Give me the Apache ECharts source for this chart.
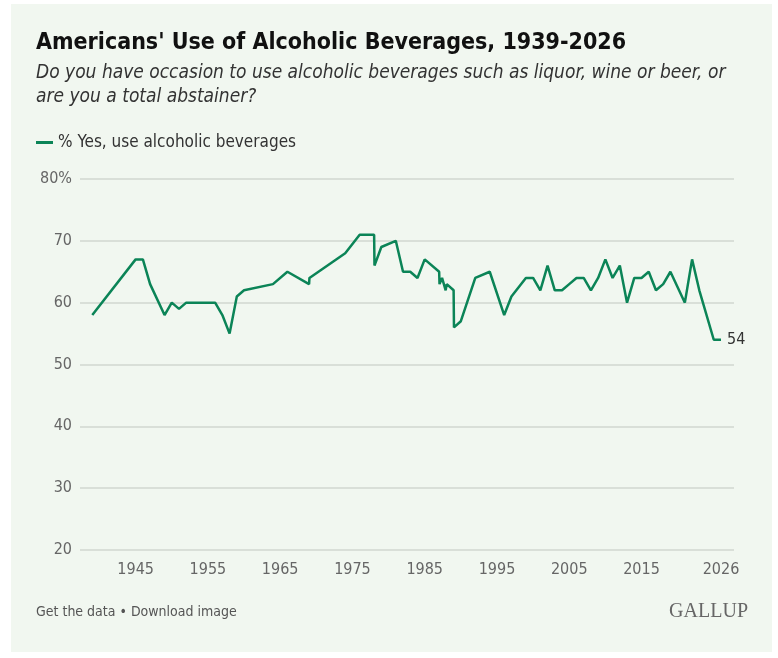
<!DOCTYPE html>
<html>
<head>
<meta charset="utf-8">
<script src="https://cdn.jsdelivr.net/npm/echarts@6/dist/echarts.min.js"></script>
<style>
  html, body { margin: 0; padding: 0; background: #ffffff; }
  #card { position: absolute; left: 11px; top: 4px; width: 761px; height: 648px; background: #f1f7f0; }
  #main { position: absolute; left: 0; top: 0; width: 778px; height: 658px; }
</style>
</head>
<body>
<div id="card"></div>
<div id="main"></div>
<script>
// survey dates (fractional year where several polls share a year)
const years = [1939, 1945, 1946, 1947, 1949, 1950, 1951, 1952, 1956, 1957, 1958, 1959, 1960, 1964, 1966,
  1969, 1969.05, 1974, 1976, 1978, 1978.05, 1979, 1981, 1982, 1983, 1984, 1985, 1987, 1987.05, 1987.4,
  1987.9, 1988.05, 1989, 1989.05, 1990, 1992, 1994, 1996, 1997, 1999, 2000, 2001, 2002, 2003, 2004,
  2005, 2006, 2007, 2008, 2009, 2010, 2011, 2012, 2013, 2014, 2015, 2016, 2017, 2018, 2019, 2021,
  2022, 2023, 2025, 2026];
const yesPct = [58, 67, 67, 63, 58, 60, 59, 60, 60, 58, 55, 61, 62, 63, 65,
  63, 64, 68, 71, 71, 66, 69, 70, 65, 65, 64, 67, 65, 63, 64,
  62, 63, 62, 56, 57, 64, 65, 58, 61, 64, 64, 62, 66, 62, 62,
  63, 64, 64, 62, 64, 67, 64, 66, 60, 64, 64, 65, 62, 63, 65, 60,
  67, 62, 54, 54];
const xTicks = [1945, 1955, 1965, 1975, 1985, 1995, 2005, 2015, 2026];
const seriesName = '% Yes, use alcoholic beverages';

const chart = echarts.init(document.getElementById('main'));
const green = '#0b8457';
const narrow = '"DejaVu Sans Condensed", "Liberation Sans", sans-serif';

chart.setOption({
  backgroundColor: 'transparent',
  title: [
    {
      text: "Americans' Use of Alcoholic Beverages, 1939-2026",
      left: 31, top: 27,
      textStyle: { fontFamily: narrow, fontWeight: 'bold', fontSize: 23, color: '#111' }
    },
    {
      text: 'Do you have occasion to use alcoholic beverages such as liquor, wine or beer, or\nare you a total abstainer?',
      left: 31, top: 56,
      textStyle: { fontFamily: narrow, fontStyle: 'italic', fontWeight: 'normal', fontSize: 19, color: '#333', lineHeight: 24 }
    },
    {
      text: 'Get the data \u2022 Download image',
      left: 31, top: 600,
      textStyle: { fontFamily: narrow, fontWeight: 'normal', fontSize: 14, color: '#555' }
    },
    {
      text: 'GALLUP',
      right: 25, top: 597,
      textStyle: { fontFamily: 'Liberation Serif', fontWeight: 'normal', fontSize: 20, color: '#666' }
    }
  ],
  legend: {
    left: 31, top: 129,
    icon: 'rect', itemWidth: 17, itemHeight: 3, itemGap: 5,
    textStyle: { fontFamily: narrow, fontSize: 17, color: '#333' },
    data: [seriesName]
  },
  grid: { left: 80, right: 44, top: 179, bottom: 108 },
  xAxis: {
    type: 'value',
    min: 1937.3, max: 2027.8,
    axisLine: { show: false },
    axisTick: { show: false },
    splitLine: { show: false },
    axisLabel: {
      customValues: xTicks,
      margin: 12,
      formatter: v => String(v),
      fontFamily: narrow, fontSize: 16, color: '#666'
    }
  },
  yAxis: {
    type: 'value',
    min: 20, max: 80, interval: 10,
    axisLine: { show: false },
    axisTick: { show: false },
    splitLine: { lineStyle: { color: '#d9dfd8', width: 2 } },
    axisLabel: {
      margin: 8,
      fontFamily: narrow, fontSize: 16, color: '#666',
      formatter: v => v === 80 ? v + '%' : String(v)
    }
  },
  series: [{
    name: seriesName,
    type: 'line',
    data: years.map((y, i) => [y, yesPct[i]]),
    showSymbol: false,
    lineStyle: { color: green, width: 2.5 },
    itemStyle: { color: green },
    endLabel: {
      show: true,
      formatter: p => String(p.value[1]),
      fontFamily: narrow, fontSize: 16, color: '#333', distance: 6
    },
    animation: false
  }]
});
</script>
</body>
</html>
